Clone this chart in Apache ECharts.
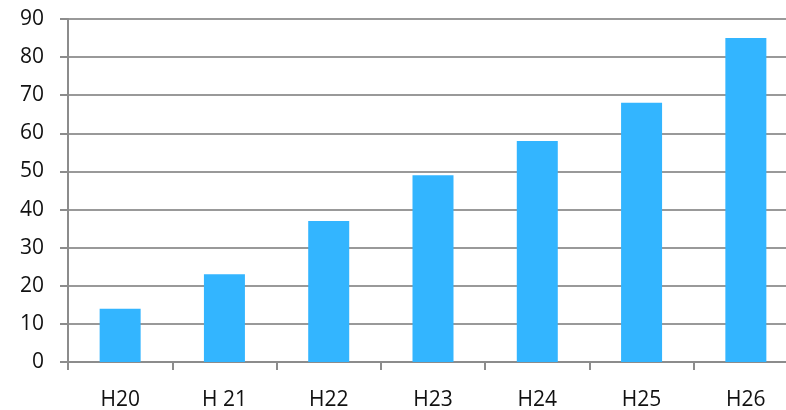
<!DOCTYPE html>
<html><head><meta charset="utf-8">
<script src="https://cdn.jsdelivr.net/npm/echarts@6/dist/echarts.min.js"></script>
<style>html,body{margin:0;padding:0;background:#fff}#c{width:786px;height:410px}</style>
</head><body><div id="c"></div>
<script>
const categories = ['H20', 'H 21', 'H22', 'H23', 'H24', 'H25', 'H26'];
const values = [14, 23, 37, 49, 58, 68, 85];
const yTicks = {min: 0, max: 90, interval: 10};

const chart = echarts.init(document.getElementById('c'), null, {renderer: 'canvas'});
chart.setOption({
  animation: false,
  grid: {left: 68, width: 730, top: 19, height: 343, containLabel: false, outerBoundsMode: 'none'},
  xAxis: {
    type: 'category', data: categories,
    axisLine: {lineStyle: {color: '#8c8c8c', width: 2}},
    axisTick: {show: true, length: 8, lineStyle: {color: '#8c8c8c', width: 2}},
    axisLabel: {color: '#111', fontSize: 21, fontFamily: 'Open Sans', margin: 28}
  },
  yAxis: {
    type: 'value', min: yTicks.min, max: yTicks.max, interval: yTicks.interval,
    axisLine: {show: true, lineStyle: {color: '#8c8c8c', width: 2}},
    axisTick: {show: true, length: 8, lineStyle: {color: '#8c8c8c', width: 2}},
    axisLabel: {color: '#111', fontSize: 21, fontFamily: 'Open Sans', margin: 24},
    splitLine: {lineStyle: {color: '#999', width: 2}}
  },
  series: [{
    type: 'bar', data: values, barWidth: 41,
    itemStyle: {color: '#33b5ff'}
  }]
});
</script></body></html>
